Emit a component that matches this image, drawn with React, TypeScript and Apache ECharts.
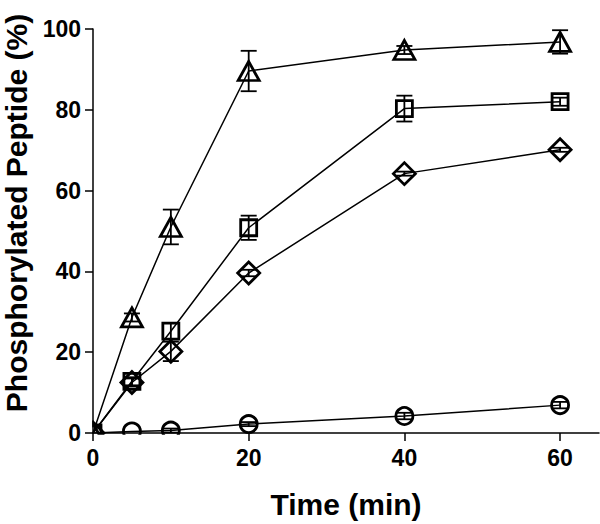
import React, { useEffect, useRef } from "react";
import * as echarts from "echarts";

const times = [0, 5, 10, 20, 40, 60];
const triangleVals = [0, 28.6, 51, 89.6, 94.8, 96.8];
const triangleErr = [0, 1, 4.3, 5, 1, 2.9];
const squareVals = [0, 12.8, 25.2, 50.8, 80.3, 82];
const squareErr = [0, 1, 2, 3, 3.2, 1];
const diamondVals = [0, 12.5, 20.2, 39.6, 64.2, 70.1];
const diamondErr = [0, 1, 2.4, 0.8, 0.5, 0.5];
const circleVals = [0, 0.4, 0.6, 2.2, 4.2, 6.9];
const circleErr = [0, 0, 0.5, 0.5, 0.8, 0.8];
const xTicks = [0, 20, 40, 60];
const yTicks = [0, 20, 40, 60, 80, 100];

const W = 600;
const H = 524;
const GRID_LEFT = 93;
const GRID_TOP = 29;
const GRID_BOTTOM = 90;
const FONT = '"Liberation Sans", Arial, Helvetica, sans-serif';

function lineSeries(vals: number[], symbol: string, size: number | number[]) {
  return {
    type: "line",
    data: times.map((t, i) => [t, vals[i]]),
    symbol,
    symbolSize: size,
    showAllSymbol: true,
    lineStyle: { color: "#000", width: 1.5 },
    itemStyle: { color: "rgba(0,0,0,0)", borderColor: "#000", borderWidth: 2.8 },
    z: 2,
  };
}

function errSeries(vals: number[], errs: number[]) {
  return {
    type: "custom",
    data: times
      .map((t, i) => [t, vals[i] - errs[i], vals[i] + errs[i], errs[i]])
      .filter((d) => d[3] > 0),
    renderItem: (params: any, api: any) => {
      const x = api.value(0);
      const lo = api.coord([x, api.value(1)]);
      const hi = api.coord([x, api.value(2)]);
      const hw = 8;
      const style = { stroke: "#000", lineWidth: 1.8 };
      return {
        type: "group",
        children: [
          { type: "line", shape: { x1: lo[0], y1: lo[1], x2: hi[0], y2: hi[1] }, style },
          { type: "line", shape: { x1: lo[0] - hw, y1: lo[1], x2: lo[0] + hw, y2: lo[1] }, style },
          { type: "line", shape: { x1: hi[0] - hw, y1: hi[1], x2: hi[0] + hw, y2: hi[1] }, style },
        ],
      };
    },
    encode: { x: 0, y: [1, 2] },
    z: 2,
  };
}

export default function App() {
  const ref = useRef<HTMLDivElement>(null);
  useEffect(() => {
    if (!ref.current) return;
    const chart = echarts.init(ref.current, undefined, { renderer: "svg" });
    const axisCommon = {
      axisLine: { show: true, onZero: true, lineStyle: { color: "#000", width: 1.5 } },
      axisTick: { show: true, inside: false, length: 8, lineStyle: { color: "#000", width: 1.5 } },
      splitLine: { show: false },
      z: 10,
    };
    chart.setOption({
      animation: false,
      backgroundColor: "#fff",
      grid: { left: GRID_LEFT, right: 1, top: GRID_TOP, bottom: GRID_BOTTOM, containLabel: false },
      xAxis: {
        type: "value",
        min: 0,
        max: 65,
        interval: 20,
        ...axisCommon,
        axisTick: { ...axisCommon.axisTick, customValues: xTicks },
        axisLabel: {
          customValues: xTicks,
          color: "#000",
          fontSize: 23,
          fontWeight: "bold",
          fontFamily: FONT,
          margin: 13,
        },
        name: "Time (min)",
        nameLocation: "middle",
        nameGap: 56,
        nameTextStyle: { color: "#000", fontSize: 30, fontWeight: "bold", fontFamily: FONT },
      },
      yAxis: {
        type: "value",
        min: 0,
        max: 100,
        interval: 20,
        ...axisCommon,
        axisTick: { ...axisCommon.axisTick, customValues: yTicks },
        axisLabel: {
          customValues: yTicks,
          color: "#000",
          fontSize: 23,
          fontWeight: "bold",
          fontFamily: FONT,
          margin: 12,
        },
      },
      graphic: [
        {
          type: "rect",
          z: 5,
          silent: true,
          shape: { x: 0, y: H - GRID_BOTTOM + 0.8, width: W, height: GRID_BOTTOM },
          style: { fill: "#fff" },
        },
        {
          type: "rect",
          z: 5,
          silent: true,
          shape: { x: 0, y: 0, width: GRID_LEFT - 0.8, height: H },
          style: { fill: "#fff" },
        },
        {
          type: "text",
          z: 11,
          x: 16,
          y: 213,
          rotation: Math.PI / 2,
          style: {
            text: "Phosphorylated Peptide (%)",
            fill: "#000",
            font: `bold 30px ${FONT}`,
            align: "center",
            verticalAlign: "middle",
          },
        },
      ],
      series: [
        errSeries(triangleVals, triangleErr),
        errSeries(squareVals, squareErr),
        errSeries(diamondVals, diamondErr),
        errSeries(circleVals, circleErr),
        lineSeries(triangleVals, "triangle", [21, 19]),
        lineSeries(squareVals, "rect", [16, 16]),
        lineSeries(diamondVals, "diamond", [22, 22]),
        lineSeries(circleVals, "circle", 17),
      ],
    });
    return () => chart.dispose();
  }, []);
  return (
    <div
      ref={ref}
      style={{ position: "fixed", left: 0, top: 0, width: W, height: H, background: "#fff" }}
    />
  );
}
